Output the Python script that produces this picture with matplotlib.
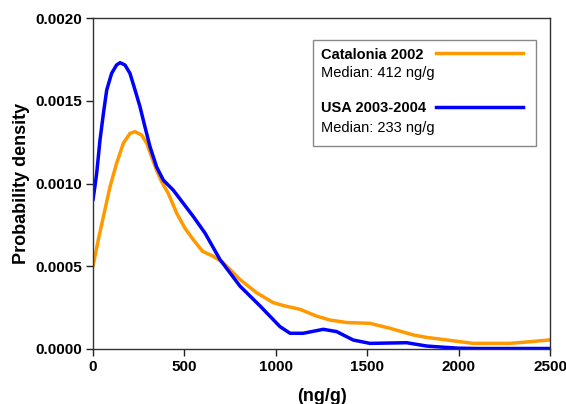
import matplotlib
matplotlib.use("Agg")
import matplotlib.pyplot as plt
from matplotlib.patches import Rectangle
from matplotlib.lines import Line2D

plt.rcParams['font.family'] = ['Liberation Sans', 'DejaVu Sans']

# Probability density of concentration (ng/g)
cat_x = [0, 29, 57, 93, 129, 166, 202, 230, 266, 294, 321, 348, 376, 412, 458,
         503, 549, 600, 658, 713, 804, 895, 986, 1050, 1132, 1220, 1296, 1388,
         1515, 1625, 1752, 1825, 1898, 2008, 2080, 2281, 2391, 2500]
cat_y = [0.00050, 0.00066, 0.00080, 0.00098, 0.001122, 0.001243, 0.001303,
         0.001313, 0.001293, 0.001243, 0.00116, 0.00108, 0.00101, 0.00094,
         0.00082, 0.00073, 0.00066, 0.00059, 0.00056, 0.00052, 0.00042, 0.00034,
         0.00028, 0.00026, 0.00024, 0.00020, 0.000175, 0.00016, 0.000155,
         0.000125, 0.000085, 0.00007, 0.00006, 0.000044, 0.000034, 0.000034,
         0.000044, 0.000055]

usa_x = [0, 20, 38, 57, 75, 102, 129, 148, 175, 202, 230, 257, 284, 312, 348,
         385, 439, 494, 549, 613, 695, 804, 914, 1023, 1078, 1150, 1260, 1333,
         1424, 1515, 1716, 1825, 1900, 2000, 2100, 2500]
usa_y = [0.00090, 0.00106, 0.00126, 0.001424, 0.001565, 0.001666, 0.001716,
         0.00173, 0.001716, 0.001666, 0.001565, 0.001464, 0.001343, 0.001222,
         0.00110, 0.00102, 0.00096, 0.00088, 0.00080, 0.00070, 0.00054, 0.00038,
         0.00026, 0.000135, 0.000095, 0.000095, 0.000119, 0.000105, 0.000054,
         0.000034, 0.000038, 0.000018, 0.000012, 0.000005, 0.000003, 0.000003]

x_ticks = [0, 500, 1000, 1500, 2000, 2500]
y_ticks = [0.0, 0.0005, 0.0010, 0.0015, 0.0020]
y_tick_labels = ["0.0000", "0.0005", "0.0010", "0.0015", "0.0020"]

series = [
    ("Catalonia 2002", "Median: 412 ng/g", cat_x, cat_y, "#FF9900"),
    ("USA 2003-2004", "Median: 233 ng/g", usa_x, usa_y, "#0000FF"),
]

fig = plt.figure(figsize=(5.66, 4.04), dpi=100)
ax = fig.add_axes([93 / 566, 55 / 404, 457 / 566, 331 / 404])

for name, med, xs, ys, col in series:
    ax.plot(xs, ys, color=col, lw=2.5, solid_joinstyle='round',
            solid_capstyle='round')

ax.set_xlim(0, 2500)
ax.set_ylim(0, 0.002)
ax.set_xticks(x_ticks)
ax.set_xticklabels([str(t) for t in x_ticks])
ax.set_yticks(y_ticks)
ax.set_yticklabels(y_tick_labels)
ax.tick_params(direction='out', length=5, width=1, labelsize=11, colors='#222222',
               labelcolor='black', pad=3)
for lab in ax.get_xticklabels() + ax.get_yticklabels():
    lab.set_fontweight('bold')
for sp in ax.spines.values():
    sp.set_color('#333333')
    sp.set_linewidth(1)

ax.set_xlabel("(ng/g)", fontsize=13, fontweight='bold', labelpad=10)
ax.set_ylabel("Probability density", fontsize=13, fontweight='bold', labelpad=4)

# Legend box drawn by hand
ax.add_patch(Rectangle((0.481, 0.613), 0.488, 0.3205, transform=ax.transAxes,
                       facecolor='white', edgecolor='#888888', lw=1, zorder=5))
rows = [(0.888, 0.833, 0.893), (0.727, 0.669, 0.732)]
for (name, med, xs, ys, col), (ty, my, ly) in zip(series, rows):
    ax.text(0.498, ty, name, transform=ax.transAxes, fontsize=10.5,
            fontweight='bold', va='center', ha='left', zorder=6)
    ax.text(0.498, my, med, transform=ax.transAxes, fontsize=10.5,
            va='center', ha='left', zorder=6)
    ax.add_line(Line2D([0.75, 0.942], [ly, ly], transform=ax.transAxes,
                       color=col, lw=2.5, zorder=6))

fig.savefig("out.png", dpi=100)
